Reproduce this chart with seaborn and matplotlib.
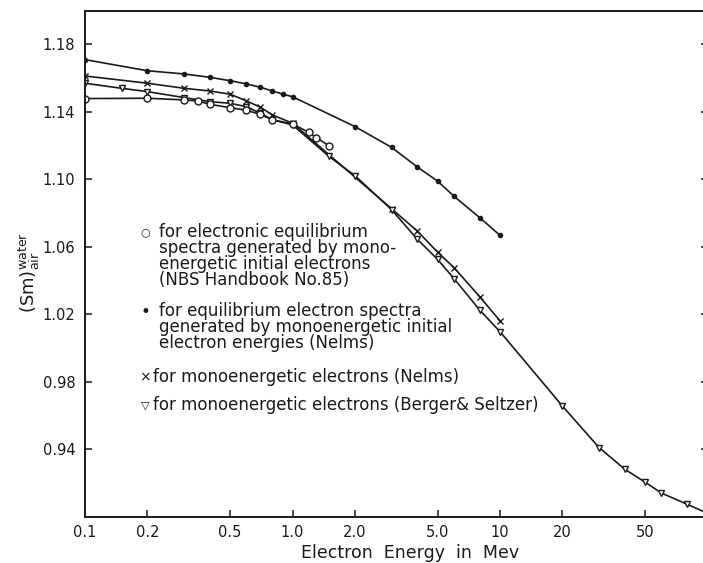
import matplotlib
matplotlib.use("Agg")
import matplotlib.pyplot as plt
import seaborn as sns

# Data (energy in MeV, stopping power ratio water/air)
nbs_energy = [0.1, 0.2, 0.3, 0.35, 0.4, 0.5, 0.6, 0.7, 0.8, 1.0, 1.2, 1.3, 1.5]
nbs_ratio = [1.1479, 1.1481, 1.1471, 1.1465, 1.1445, 1.1425, 1.1410, 1.1385,
             1.1353, 1.1329, 1.1278, 1.1248, 1.1199]

nelms_eq_energy = [0.1, 0.2, 0.3, 0.4, 0.5, 0.6, 0.7, 0.8, 0.9, 1.0,
                   2.0, 3.0, 4.0, 5.0, 6.0, 8.0, 10.0]
nelms_eq_ratio = [1.1710, 1.1644, 1.1625, 1.1605, 1.1585, 1.1566, 1.1546, 1.1524,
                  1.1505, 1.1490, 1.1313, 1.1190, 1.1073, 1.0990, 1.0900, 1.0772, 1.0668]

nelms_mono_energy = [0.1, 0.2, 0.3, 0.4, 0.5, 0.6, 0.7, 0.8, 1.0,
                     3.0, 4.0, 5.0, 6.0, 8.0, 10.0]
nelms_mono_ratio = [1.1613, 1.1570, 1.1540, 1.1524, 1.1505, 1.1465, 1.1428, 1.1382,
                    1.1333, 1.0826, 1.0693, 1.0569, 1.0477, 1.0303, 1.0161]

berger_energy = [0.1, 0.15, 0.2, 0.3, 0.4, 0.5, 0.6, 0.7, 0.8, 1.0, 1.5, 2.0, 3.0,
                 4.0, 5.0, 6.0, 8.0, 10.0, 20.0, 30.0, 40.0, 50.0, 60.0, 80.0, 100.0]
berger_ratio = [1.1570, 1.1540, 1.1520, 1.1485, 1.1461, 1.1451, 1.1431, 1.1392,
                1.1353, 1.1323, 1.1136, 1.1022, 1.0821, 1.0644, 1.0526, 1.0412,
                1.0224, 1.0097, 0.9656, 0.9410, 0.9281, 0.9205, 0.9140, 0.9073, 0.9020]

xticks = [0.1, 0.2, 0.5, 1.0, 2.0, 5.0, 10, 20, 50]
xticklabels = ["0.1", "0.2", "0.5", "1.0", "2.0", "5.0", "10", "20", "50"]
yticks = [0.94, 0.98, 1.02, 1.06, 1.10, 1.14, 1.18]
yticklabels = ["0.94", "0.98", "1.02", "1.06", "1.10", "1.14", "1.18"]

sns.set_style("ticks")
plt.rcParams['font.family'] = ['DejaVu Sans']
ink = "#1a1a1a"

W, H = 703, 563
fig = plt.figure(figsize=(W / 100, H / 100), dpi=100)
ax = fig.add_axes([85 / W, 1 - 516.7 / H, 622.5 / W, 506 / H])

line_kw = dict(color=ink, linewidth=1.2, markeredgecolor=ink, markeredgewidth=1.0)
sns.lineplot(x=nelms_eq_energy, y=nelms_eq_ratio, marker="o", markersize=3,
             markerfacecolor=ink, ax=ax, **line_kw)
sns.lineplot(x=nelms_mono_energy, y=nelms_mono_ratio, marker="x", markersize=4.5,
             ax=ax, **line_kw)
sns.lineplot(x=berger_energy, y=berger_ratio, marker="v", markersize=4.5,
             markerfacecolor="white", ax=ax, **line_kw)
sns.lineplot(x=nbs_energy, y=nbs_ratio, marker="o", markersize=5,
             markerfacecolor="white", ax=ax, **line_kw)

ax.set_xscale("log")
ax.set_xlim(0.1, 100)
ax.set_ylim(0.90, 1.20)
ax.set_xticks(xticks)
ax.set_xticklabels(xticklabels)
ax.minorticks_off()
ax.set_yticks(yticks)
ax.set_yticklabels(yticklabels)
ax.tick_params(axis="both", direction="in", length=5, width=1.1, colors=ink,
               labelsize=10.5, right=True)
ax.tick_params(axis="x", pad=6)
ax.tick_params(axis="y", pad=7)
for s in ax.spines.values():
    s.set_linewidth(1.4)
    s.set_color(ink)
ax.set_xlabel("")
ax.set_ylabel("")

# axis titles
fig.text(410 / W, 1 - 553 / H, "Electron  Energy  in  Mev", ha="center", va="center",
         fontsize=12.5, color=ink)
fig.text(29 / W, 1 - 272 / H, r"$(\mathrm{Sm})_{\mathrm{air}}^{\mathrm{water}}$",
         rotation=90, ha="center", va="center", fontsize=13, color=ink)

# hand-lettered key: (symbol y, block centre y, symbol, text x, text)
key_blocks = [
    (232, 256, "\u25cb", 159,
     "for electronic equilibrium\nspectra generated by mono-\n"
     "energetic initial electrons\n(NBS Handbook No.85)"),
    (312, 327, "\u2022", 159,
     "for equilibrium electron spectra\ngenerated by monoenergetic initial\n"
     "electron energies (Nelms)"),
    (377, 377, "\u00d7", 153, "for monoenergetic electrons (Nelms)"),
    (405, 405, "\u25bd", 153, "for monoenergetic electrons (Berger& Seltzer)"),
]
sym_size = {"\u25cb": 8, "\u2022": 12, "\u00d7": 10, "\u25bd": 8}
for sy, by, sym, tx, txt in key_blocks:
    fig.text(145 / W, 1 - sy / H, sym, ha="center", va="center",
             fontsize=sym_size[sym], color=ink)
    fig.text(tx / W, 1 - by / H, txt, ha="left", va="center",
             fontsize=12, linespacing=0.88, color=ink)

fig.savefig("out.png", dpi=100)
